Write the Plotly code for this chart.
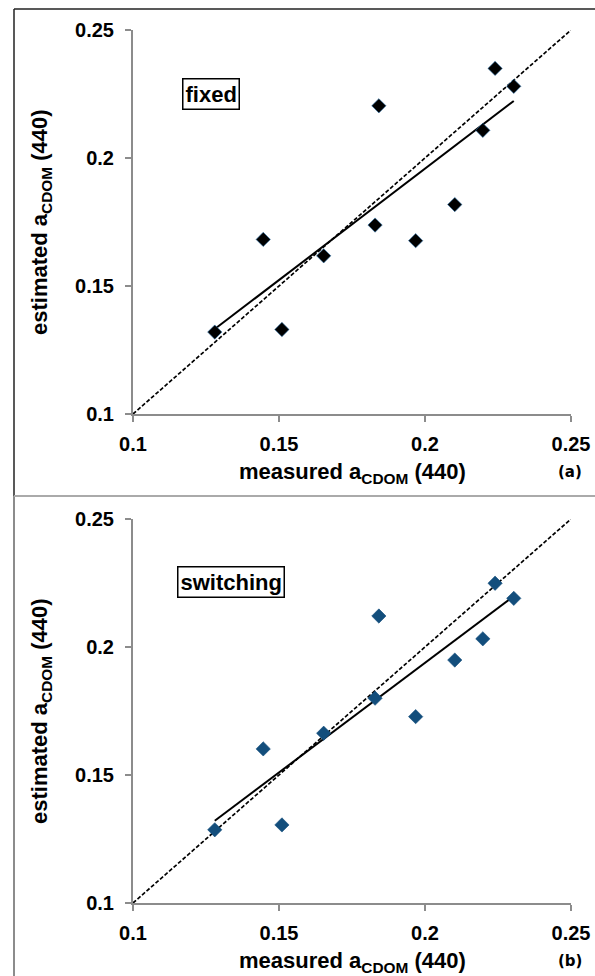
import numpy as np
import plotly.graph_objects as go

# ---- data ----
measured = [0.128, 0.1446, 0.151, 0.1653, 0.1829, 0.1842, 0.1968, 0.2102, 0.2198, 0.224, 0.2304]
estimated_fixed = [0.132, 0.1682, 0.133, 0.1618, 0.1738, 0.2204, 0.1677, 0.1818, 0.2108, 0.235, 0.228]
estimated_switching = [0.1286, 0.1602, 0.1305, 0.1663, 0.180, 0.2121, 0.1728, 0.1949, 0.2032, 0.2249, 0.219]
axis_range = [0.1, 0.25]
tick_vals = [0.1, 0.15, 0.2, 0.25]
tick_text = ["0.1", "0.15", "0.2", "0.25"]
panel_labels = ["fixed", "switching"]
panel_tags = ["(a)", "(b)"]

W, H = 595, 976
def px(x):
    return x / W
def py(y):
    return 1 - y / H

fig = go.Figure()

panels = [
    dict(y=estimated_fixed, color="#000000", edge="#2a6fa8", xa="x", ya="y"),
    dict(y=estimated_switching, color="#134e7c", edge="#134e7c", xa="x2", ya="y2"),
]

for p in panels:
    # 1:1 line
    fig.add_trace(go.Scatter(x=axis_range, y=axis_range, mode="lines",
                             line=dict(color="black", width=1.7, dash="4px,2px"),
                             xaxis=p["xa"], yaxis=p["ya"], showlegend=False, hoverinfo="skip"))
    # linear fit
    k, b = np.polyfit(measured, p["y"], 1)
    xs = np.array([min(measured), max(measured)])
    fig.add_trace(go.Scatter(x=xs, y=k * xs + b, mode="lines",
                             line=dict(color="black", width=2),
                             xaxis=p["xa"], yaxis=p["ya"], showlegend=False, hoverinfo="skip"))
    fig.add_trace(go.Scatter(x=measured, y=p["y"], mode="markers",
                             marker=dict(symbol="diamond", size=11, color=p["color"],
                                         line=dict(color=p["edge"], width=0.6)),
                             xaxis=p["xa"], yaxis=p["ya"], showlegend=False))

axis_common = dict(range=axis_range, tickvals=tick_vals, ticktext=tick_text, automargin=False,
                   showgrid=False, zeroline=False, showline=True, linecolor="#8c8c8c", linewidth=2,
                   ticks="outside", ticklen=6, tickwidth=2, tickcolor="#8c8c8c",
                   tickfont=dict(family="Liberation Sans, Arial", size=20, color="black", weight="bold"))

xdom = [px(133), px(571)]
fig.update_layout(
    template="none",
    width=W, height=H, margin=dict(l=0, r=0, t=0, b=0, pad=0), autosize=False,
    paper_bgcolor="white", plot_bgcolor="white",
    xaxis=dict(domain=xdom, anchor="y", ticklabelstandoff=5, **axis_common),
    yaxis=dict(domain=[py(414), py(30)], anchor="x", ticklabelstandoff=7, **axis_common),
    xaxis2=dict(domain=xdom, anchor="y2", ticklabelstandoff=5, **axis_common),
    yaxis2=dict(domain=[py(903), py(519)], anchor="x2", ticklabelstandoff=7, **axis_common),
)

title_font = dict(family="Liberation Sans, Arial", size=22, color="black", weight="bold")
annots = []
for i, (top, bottom) in enumerate([(30, 414), (519, 903)]):
    cy = (top + bottom) / 2
    annots.append(dict(x=px(352), y=py(bottom + 59), xref="paper", yref="paper",
                       text="measured a<sub>CDOM</sub> (440)", showarrow=False,
                       font=title_font, xanchor="center", yanchor="middle"))
    annots.append(dict(x=px(41), y=py(cy), xref="paper", yref="paper",
                       text="estimated a<sub>CDOM</sub> (440)", showarrow=False, textangle=-90,
                       font=title_font, xanchor="center", yanchor="middle"))
    annots.append(dict(x=px(570), y=py(bottom + 58), xref="paper", yref="paper",
                       text=panel_tags[i], showarrow=False,
                       font=dict(family="DejaVu Sans", size=15, color="black", weight="bold"),
                       xanchor="center", yanchor="middle"))
annots.append(dict(x=px(211), y=py(94), xref="paper", yref="paper", text=panel_labels[0],
                   showarrow=False, font=title_font, bordercolor="black", borderwidth=1.5,
                   borderpad=2, bgcolor="white", xanchor="center", yanchor="middle"))
annots.append(dict(x=px(231), y=py(581.5), xref="paper", yref="paper", text=panel_labels[1],
                   showarrow=False, font=title_font, bordercolor="black", borderwidth=1.5,
                   borderpad=2, bgcolor="white", xanchor="center", yanchor="middle"))
fig.update_layout(annotations=annots)

shapes = [
    dict(type="line", xref="paper", yref="paper", x0=px(14), x1=1, y0=py(9), y1=py(9),
         line=dict(color="#222", width=1.5)),
    dict(type="line", xref="paper", yref="paper", x0=px(14), x1=px(14), y0=py(9), y1=py(496),
         line=dict(color="#222", width=1.5)),
    dict(type="line", xref="paper", yref="paper", x0=px(14), x1=px(14), y0=py(496), y1=0,
         line=dict(color="#666", width=1.5)),
    dict(type="line", xref="paper", yref="paper", x0=px(14), x1=1, y0=py(496), y1=py(496),
         line=dict(color="#aaaaaa", width=2)),
]
fig.update_layout(shapes=shapes)

fig.write_html("out.html", config={"responsive": False, "displayModeBar": False},
               post_script="document.body.style.margin='0';document.body.style.overflow='hidden';")
